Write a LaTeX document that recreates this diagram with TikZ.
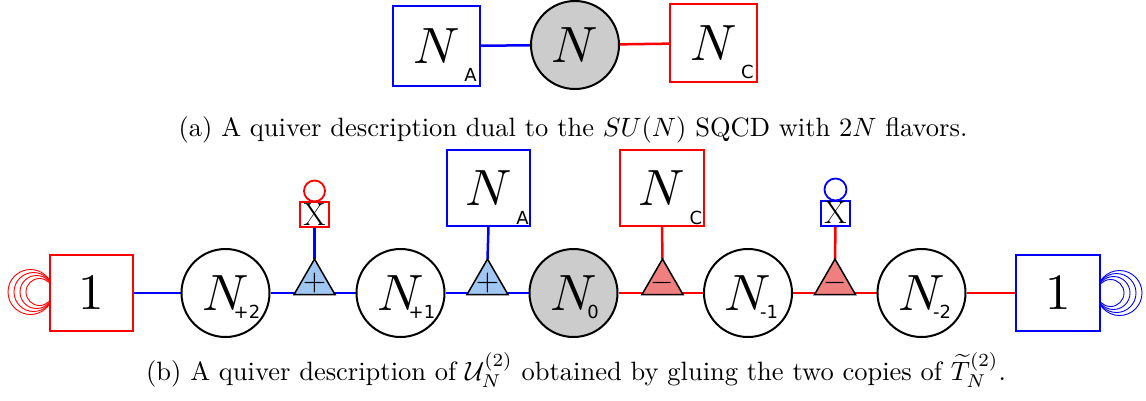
\documentclass[tikz,border=0pt]{standalone}
\usepackage{fontspec}
\newfontfamily\dvs{DejaVu Sans}
\usetikzlibrary{shapes.geometric,calc}
\pgfdeclarelayer{background}
\pgfsetlayers{background,main}
\definecolor{tblue}{RGB}{160,198,242}
\definecolor{tred}{RGB}{240,128,128}
\definecolor{ngray}{RGB}{204,204,204}
\newcommand\qN{\scalebox{5.1}{$N$}}
\newcommand\qOne{\scalebox{5.1}{1}}
\begin{document}
\begin{tikzpicture}[x=1pt,y=-1pt,
  gnode/.style={circle,draw=black,line width=2pt,fill=white,minimum size=88pt,inner sep=0pt},
  fbox/.style={rectangle,line width=2pt,fill=white,inner sep=0pt},
  subl/.style={inner sep=0pt,font=\dvs\fontsize{18}{18}\selectfont},
  tri/.style={regular polygon,regular polygon sides=3,draw=black,line width=1.5pt,minimum size=47.3pt,inner sep=0pt,outer sep=0pt},
  sgn/.style={inner sep=0pt},
  xbox/.style={rectangle,line width=2pt,fill=white,minimum width=29pt,minimum height=25pt,inner sep=0pt,font=\fontsize{32}{32}\selectfont},
  conn/.style={line width=2.5pt},
  loopl/.style={line width=0.9pt},
  xloop/.style={line width=1.8pt},
  captxt/.style={anchor=base,inner sep=0pt}]
\useasboundingbox (0,0) rectangle (1146,400);
% ---------- (a) ----------
\node[fbox,draw=blue,minimum width=87pt,minimum height=80pt] (tA) at (436.5,46) {\qN};
\node[subl] (tAs) at (470.5,75) {A};
\node[gnode,fill=ngray] (tN) at (575,45) {\qN};
\node[fbox,draw=red,minimum width=87pt,minimum height=78pt] (tC) at (713.5,43) {\qN};
\node[subl] (tCs) at (747.5,72) {C};
\begin{pgfonlayer}{background}
\draw[conn,blue] (tA) -- (tN);
\draw[conn,red] (tN) -- (tC);
\end{pgfonlayer}
\node[captxt] (capa) at (573,136) {\scalebox{2.65}{(a) A quiver description dual to the $SU(N)$ SQCD with $2N$ flavors.}};
% ---------- (b) ----------
\node[fbox,draw=red,minimum width=83pt,minimum height=76pt] (L1) at (91.5,293) {\qOne};
\node[gnode] (Np2) at (225.5,293) {\qN};
\node[subl] (Np2s) at (247,312) {+2};
\node[gnode] (Np1) at (400.5,293) {\qN};
\node[subl] (Np1s) at (422,312) {+1};
\node[gnode,fill=ngray] (N0) at (573.5,293) {\qN};
\node[subl] (N0s) at (593,312) {0};
\node[gnode] (Nm1) at (748,293) {\qN};
\node[subl] (Nm1s) at (769,312) {-1};
\node[gnode] (Nm2) at (921.5,293) {\qN};
\node[subl] (Nm2s) at (942,312) {-2};
\node[fbox,draw=blue,minimum width=84pt,minimum height=76pt] (R1) at (1058,293) {\qOne};
\node[fbox,draw=blue,minimum width=83pt,minimum height=76pt] (bA) at (488.5,188) {\qN};
\node[subl] (bAs) at (522.5,218) {A};
\node[fbox,draw=red,minimum width=84pt,minimum height=76pt] (bC) at (662,188) {\qN};
\node[subl] (bCs) at (696,218) {C};
\node[xbox,draw=red] (X1) at (314.5,214.5) {X};
\node[xbox,draw=blue] (X2) at (835.5,213) {X};
\node[tri,fill=tblue] (T1) at (314.5,282.7) {};
\node[sgn] (T1s) at (T1) {\scalebox{3}{$+$}};
\node[tri,fill=tblue] (T2) at (487.5,282.7) {};
\node[sgn] (T2s) at (T2) {\scalebox{3}{$+$}};
\node[tri,fill=tred] (T3) at (662.5,282.7) {};
\node[sgn] (T3s) at (T3) {\scalebox{3}{$-$}};
\node[tri,fill=tred] (T4) at (835,282.7) {};
\node[sgn] (T4s) at (T4) {\scalebox{3}{$-$}};
\begin{pgfonlayer}{background}
\draw[conn,blue] (L1) -- (Np2);
\draw[conn,blue] (Np2) -- (Np1);
\draw[conn,blue] (Np1) -- (N0);
\draw[conn,red] (N0) -- (Nm1);
\draw[conn,red] (Nm1) -- (Nm2);
\draw[conn,red] (Nm2) -- (R1);
\draw[conn,blue] (T1.corner 1) -- (X1.south);
\draw[conn,blue] (T2.corner 1) -- (bA.south);
\draw[conn,red] (T3.corner 1) -- (bC.south);
\draw[conn,red] (T4.corner 1) -- (X2.south);
\draw[xloop,red] ([yshift=10pt]X1.north) circle[radius=10.5pt];
\draw[xloop,blue] ([yshift=10pt]X2.north) circle[radius=11pt];
\foreach \r in {22.5,19.5,16.5,13.5}{
  \draw[loopl,red] ($(L1.west)+(4-\r,-1)$) circle[radius=\r pt];
  \draw[loopl,blue] ($(R1.east)+(\r-4,0)$) circle[radius=\r pt];
}
\end{pgfonlayer}
\node[captxt] (capb) at (576,380) {\scalebox{2.65}{(b) A quiver description of $\mathcal{U}_N^{(2)}$ obtained by gluing the two copies of $\widetilde{T}_N^{(2)}$.}};
\end{tikzpicture}
\end{document}
